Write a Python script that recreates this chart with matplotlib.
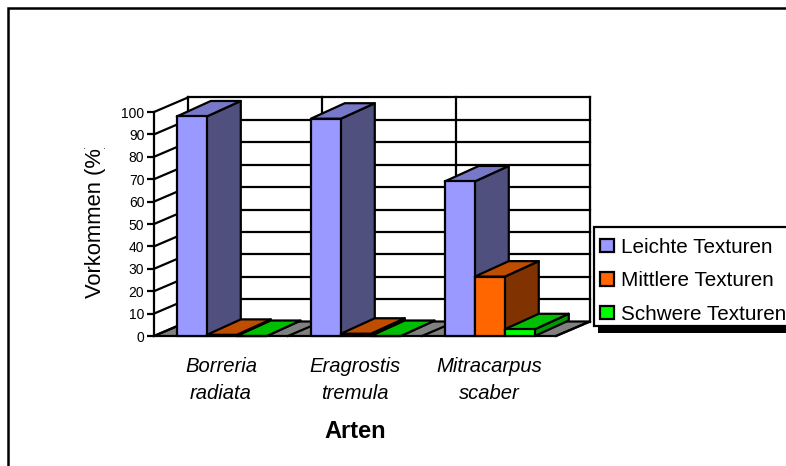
import numpy as np
import matplotlib
matplotlib.use("Agg")
import matplotlib.pyplot as plt
from matplotlib.patches import Polygon, Patch, Rectangle

plt.rcParams['font.family'] = ['Liberation Sans', 'DejaVu Sans']

W, H = 786, 466

species = ['Borreria\nradiata', 'Eragrostis\ntremula', 'Mitracarpus\nscaber']
series_names = ['Leichte Texturen', 'Mittlere Texturen', 'Schwere Texturen']
leichte = [98, 97, 69]
mittlere = [0.5, 1, 26.5]
schwere = [0, 0, 3]
yticks = list(range(0, 101, 10))

front = ['#9999FF', '#FF6600', '#00FF00']
top = ['#7878C8', '#BF4D00', '#00BF00']
side = ['#50507F', '#803300', '#009900']

fig = plt.figure(figsize=(W / 100, H / 100), dpi=100)
ax = fig.add_axes([154 / W, 1 - 336 / H, 402 / W, 224 / H])
ax.set_xlim(0, 3)
ax.set_ylim(0, 100)
ax.patch.set_visible(False)
for s in ['top', 'right', 'bottom']:
    ax.spines[s].set_visible(False)
lw = 1.6
ax.spines['left'].set_linewidth(lw)

# oblique depth of the 3d box, in data units
dx = 34 / 402 * 3
dy = 14.5 / 224 * 100
bar_dy = 15.5 / 224 * 100
gap = 0.17
bw = 30 / 402 * 3


def poly(pts, fc, z):
    ax.add_patch(Polygon(pts, closed=True, fc=fc, ec='k', lw=lw, zorder=z,
                         clip_on=False, joinstyle='round'))


def seg(x, y, z=2):
    ax.plot(x, y, color='k', lw=lw, zorder=z, clip_on=False)


# floor
poly([(0, 0), (3, 0), (3 + dx, dy), (dx, dy)], '#808080', 1)
for g in range(1, 3):
    seg([g, g + dx], [0, dy])
# back wall, left wall lines
for t in yticks:
    seg([0, dx], [t, t + dy])
    if t > 0:
        seg([dx, 3 + dx], [t + dy, t + dy])
for g in range(0, 4):
    seg([g + dx, g + dx], [dy, 100 + dy])
seg([3, 3 + dx], [0, dy])

# bars, left to right
z = 3
for i in range(len(species)):
    for j, vals in enumerate([leichte, mittlere, schwere]):
        v = vals[i]
        x0 = i + gap + j * bw
        x1 = x0 + bw
        poly([(x1, 0), (x1 + dx, bar_dy), (x1 + dx, v + bar_dy), (x1, v)], side[j], z)
        poly([(x0, v), (x1, v), (x1 + dx, v + bar_dy), (x0 + dx, v + bar_dy)], top[j], z)
        poly([(x0, 0), (x1, 0), (x1, v), (x0, v)], front[j], z)
        z += 1

ax.set_yticks(yticks)
ax.set_yticklabels([str(t) for t in yticks], fontsize=10)
ax.tick_params(axis='y', length=5, width=lw, pad=2)
ax.set_xticks([0.5, 1.5, 2.5])
ax.set_xticklabels(species, fontsize=14.6, style='italic', linespacing=1.52)
ax.tick_params(axis='x', length=0, pad=15)

# outer frame runs off the picture on the right and at the bottom
fig.add_artist(Rectangle((8 / W, -0.1), 1.2, 1.1 - 8 / H, transform=fig.transFigure,
                         fc='none', ec='k', lw=1.8))

ylab = fig.text(95.5 / W, 1 - 298 / H, 'Vorkommen (%)', rotation=90, ha='center', va='bottom',
                fontsize=15.8)
ylab.set_clip_path(Rectangle((0, 0), 1, 1 - 148 / H, transform=fig.transFigure))
ylab.set_clip_on(True)

fig.text(355 / W, 1 - 432 / H, 'Arten', ha='center', va='center', fontsize=17, fontweight='bold')

# legend box with its hard black shadow
fig.add_artist(Rectangle((598 / W, 1 - 333 / H), 200 / W, 100 / H, transform=fig.transFigure,
                         fc='k', ec='k', lw=0))
fig.add_artist(Rectangle((594 / W, 1 - 326 / H), 200 / W, 99 / H, transform=fig.transFigure,
                         fc='w', ec='k', lw=lw))
handles = [Patch(fc=front[k], ec='k', lw=lw) for k in range(3)]
leg = fig.legend(handles, series_names, loc='upper left',
                 bbox_to_anchor=(600 / W, 1 - 238 / H), fontsize=14.9, frameon=False,
                 borderaxespad=0, borderpad=0,
                 handlelength=0.68, handleheight=0.6, handletextpad=0.32, labelspacing=0.69)

fig.savefig('out.png', dpi=100)
